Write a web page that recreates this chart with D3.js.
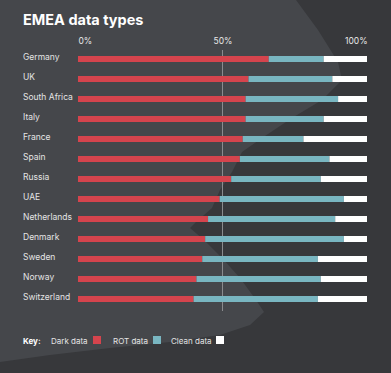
<!DOCTYPE html>
<html>
<head>
<meta charset="utf-8">
<script src="https://cdn.jsdelivr.net/npm/d3@7"></script>
<style>
  body { margin: 0; background: #37383b; }
  svg { display: block; font-family: Inter, "Open Sans", sans-serif; }
</style>
</head>
<body>
<div id="chart"></div>
<script>
// chart data
var countries = ["Germany", "UK", "South Africa", "Italy", "France", "Spain", "Russia",
  "UAE", "Netherlands", "Denmark", "Sweden", "Norway", "Switzerland"];
var darkData = [66, 59, 58, 58, 57, 56, 53, 49, 45, 44, 43, 41, 40];
var rotData = [19, 29, 32, 27, 21, 31, 31, 43, 44, 48, 40, 43, 43];
var cleanData = darkData.map((d, i) => 100 - d - rotData[i]);
var tickValues = [0, 50, 100];
var seriesNames = ["Dark data", "ROT data", "Clean data"];
var seriesColors = ["#d5444d", "#79b6c1", "#ffffff"];

var svgWidth = 391;
var svgHeight = 373;

var svg = d3.select("#chart")
  .append("svg")
  .attr("width", svgWidth)
  .attr("height", svgHeight);

// background with lighter map-like shape
svg.append("rect")
  .attr("width", svgWidth)
  .attr("height", svgHeight)
  .attr("fill", "#37383b");

svg.append("path")
  .attr("d", "M0,0 L296,0 L318,30 L338,62 L342,80 L322,100 L292,118 L262,138 L242,152 L232,172 L220,190 L212,208 L196,222 L190,228 L204,240 L222,258 L240,278 L256,300 L264,312 L250,325 L220,335 L170,342 L110,348 L50,355 L0,362 Z")
  .attr("fill", "#45474b");

// title
svg.append("text")
  .attr("x", 23)
  .attr("y", 25)
  .attr("fill", "#ffffff")
  .attr("font-size", 14.5)
  .attr("font-weight", 700)
  .text("EMEA data types");

// scales
var xScale = d3.scaleLinear()
  .domain([0, 100])
  .range([78, 367]);

var yScale = d3.scaleBand()
  .domain(countries)
  .range([49, 309])
  .paddingInner(0.7)
  .paddingOuter(0.35);

// top axis labels
var topAxis = d3.axisTop(xScale)
  .tickValues(tickValues)
  .tickSize(0)
  .tickFormat(d => d + "%");

var xAxis = svg.append("g")
  .attr("transform", "translate(0, 47)")
  .call(topAxis);
xAxis.select(".domain").remove();
xAxis.selectAll("text")
  .attr("fill", "#e8e8e8")
  .attr("font-size", 8.5)
  .attr("font-family", "Inter, sans-serif")
  .attr("text-anchor", (d, i) => i === 0 ? "start" : (i === 2 ? "end" : "middle"));

// 50% reference line
svg.append("line")
  .attr("x1", xScale(50))
  .attr("x2", xScale(50))
  .attr("y1", 50)
  .attr("y2", 311)
  .attr("stroke", "#8a8b8e")
  .attr("stroke-width", 1);

// stacked bars
var rows = countries.map((c, i) => ({
  country: c,
  values: [darkData[i], rotData[i], cleanData[i]]
}));

var barGroup = svg.append("g");
rows.forEach(function (row) {
  var start = 0;
  row.values.forEach(function (v, j) {
    barGroup.append("rect")
      .attr("x", xScale(start))
      .attr("y", yScale(row.country))
      .attr("width", xScale(start + v) - xScale(start))
      .attr("height", yScale.bandwidth())
      .attr("fill", seriesColors[j]);
    start += v;
  });
});

// country labels
svg.append("g")
  .selectAll("text")
  .data(countries)
  .enter()
  .append("text")
  .attr("x", 23)
  .attr("y", d => yScale(d) + yScale.bandwidth() / 2)
  .attr("dy", "0.1em")
  .attr("fill", "#e4e4e4")
  .attr("font-size", 8.5)
  .text(d => d);

// legend
var legend = svg.append("g");
legend.append("text")
  .attr("x", 23)
  .attr("y", 344)
  .attr("fill", "#ffffff")
  .attr("font-size", 8)
  .attr("font-weight", 700)
  .text("Key:");

var legendX = [51, 113, 171];
var swatchX = [93, 153, 216];
seriesNames.forEach(function (name, i) {
  legend.append("text")
    .attr("x", legendX[i])
    .attr("y", 344)
    .attr("fill", "#e4e4e4")
    .attr("font-size", 8)
    .text(name);
  legend.append("rect")
    .attr("x", swatchX[i])
    .attr("y", 336)
    .attr("width", 8)
    .attr("height", 8)
    .attr("fill", seriesColors[i]);
});
</script>
</body>
</html>
